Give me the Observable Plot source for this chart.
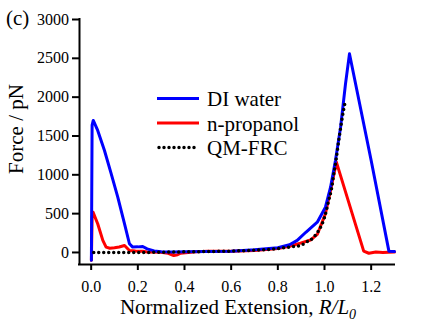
<!DOCTYPE html>
<html>
<head>
<meta charset="utf-8">
<script src="https://cdn.jsdelivr.net/npm/d3@7"></script>
<script src="https://cdn.jsdelivr.net/npm/@observablehq/plot@0.6"></script>
<style>
  html, body { margin: 0; padding: 0; background: #fff; }
  #chart { width: 432px; height: 324px; }
  #chart svg, #chart svg text { font-family: "Liberation Serif", "Times New Roman", serif !important; }
</style>
</head>
<body>
<div id="chart"></div>
<script>
// ---- data ----
const seriesNames = ["DI water", "n-propanol", "QM-FRC"];
const xTicks = [0.0, 0.2, 0.4, 0.6, 0.8, 1.0, 1.2];
const yTicks = [0, 500, 1000, 1500, 2000, 2500, 3000];

const waterX = [0.001, 0.004, 0.009, 0.028, 0.057, 0.086, 0.114, 0.143, 0.164, 0.178, 0.2, 0.221, 0.24, 0.27, 0.3, 0.35, 0.4, 0.5, 0.6, 0.7, 0.8, 0.85, 0.883, 0.92, 0.969, 1.004, 1.026, 1.047, 1.069, 1.09, 1.107, 1.2, 1.276, 1.3];
const waterY = [-100, 1640, 1700, 1571, 1313, 1013, 712, 369, 112, 69, 72, 77, 47, 20, 10, 5, 8, 12, 17, 35, 60, 100, 155, 260, 390, 583, 841, 1185, 1614, 2172, 2558, 1185, 17, 12];

const propX = [0.001, 0.004, 0.008, 0.028, 0.05, 0.064, 0.08, 0.1, 0.12, 0.143, 0.164, 0.19, 0.221, 0.24, 0.297, 0.33, 0.354, 0.37, 0.383, 0.45, 0.5, 0.6, 0.7, 0.8, 0.85, 0.897, 0.94, 0.969, 1.004, 1.026, 1.051, 1.168, 1.19, 1.22, 1.25, 1.3];
const propY = [-100, 460, 519, 369, 155, 69, 55, 60, 70, 90, 26, 20, 17, 5, 4, -10, -39, -30, -9, 10, 15, 15, 25, 50, 80, 120, 160, 232, 498, 798, 1163, 17, -10, 5, 0, 5];

const qmX = [0.011, 0.1, 0.2, 0.3, 0.4, 0.5, 0.6, 0.7, 0.8, 0.85, 0.897, 0.92, 0.954, 0.97, 0.99, 1.0, 1.018, 1.03, 1.04, 1.05, 1.061, 1.07, 1.08, 1.09];
const qmY = [0, 0, 0, 3, 8, 12, 18, 28, 50, 70, 90, 130, 197, 260, 369, 450, 670, 820, 1013, 1200, 1442, 1620, 1806, 1957];

const water = waterX.map((x, i) => ({x, y: waterY[i]}));
const prop = propX.map((x, i) => ({x, y: propY[i]}));
const qm = qmX.map((x, i) => ({x, y: qmY[i]}));

const xDomain = [-0.05, 1.3];
const yDomain = [-155, 3000];
const FONT = "Liberation Serif, Times New Roman, serif";

const chart = Plot.plot({
  width: 432,
  height: 324,
  marginLeft: 79,
  marginRight: 38,
  marginTop: 19,
  marginBottom: 60,
  style: {fontFamily: FONT, fontSize: "16px", color: "#000", background: "#fff"},
  x: {domain: xDomain},
  y: {domain: yDomain},
  marks: [
    Plot.axisX({ticks: xTicks, tickFormat: d => d.toFixed(1), tickSize: 6, tickPadding: 10, strokeWidth: 2, label: null, fontSize: 16}),
    Plot.axisY({ticks: yTicks, tickFormat: d => String(d), tickSize: 7, tickPadding: 3.5, strokeWidth: 2, label: null, fontSize: 16}),
    Plot.ruleX([xDomain[0]], {y1: yDomain[0], y2: yDomain[1], strokeWidth: 2, stroke: "#000", strokeLinecap: "square"}),
    Plot.ruleY([yDomain[0]], {x1: xDomain[0], x2: xDomain[1], strokeWidth: 2, stroke: "#000", strokeLinecap: "square"}),
    Plot.line(prop, {x: "x", y: "y", stroke: "#ff0000", strokeWidth: 3, strokeLinejoin: "round"}),
    Plot.line(water, {x: "x", y: "y", stroke: "#0000ff", strokeWidth: 3, strokeLinejoin: "round"}),
    Plot.line(qm, {x: "x", y: "y", stroke: "#000", strokeWidth: 3.5, strokeDasharray: "0 5", strokeLinecap: "round", curve: "monotone-x"})
  ]
});

document.getElementById("chart").appendChild(chart);

// ---- annotations: panel label, axis titles, legend ----
const svg = d3.select(chart);
svg.append("text").attr("x", 6).attr("y", 25).attr("text-anchor", "start")
  .attr("font-size", 21).attr("fill", "#000").text("(c)");

svg.append("text")
  .attr("transform", "translate(23,129) rotate(-90)")
  .attr("text-anchor", "middle")
  .attr("font-size", 21).attr("fill", "#000")
  .text("Force / pN");

const xl = svg.append("text").attr("x", 238).attr("y", 314)
  .attr("text-anchor", "middle")
  .attr("font-size", 21).attr("fill", "#000");
xl.append("tspan").text("Normalized Extension, ");
xl.append("tspan").attr("font-style", "italic").text("R/L");
xl.append("tspan").attr("font-style", "italic").attr("font-size", 14).attr("dy", 5).text("0");

const legendStyles = [
  {stroke: "#0000ff", width: 3, dash: null, cap: "butt"},
  {stroke: "#ff0000", width: 3, dash: null, cap: "butt"},
  {stroke: "#000", width: 3.5, dash: "0 5", cap: "round"}
];
seriesNames.forEach((name, i) => {
  const yb = 106 + i * 24.5;
  const s = legendStyles[i];
  const ln = svg.append("line")
    .attr("x1", s.dash ? 159 : 157).attr("x2", 199)
    .attr("y1", yb - 7.5).attr("y2", yb - 7.5)
    .attr("stroke", s.stroke).attr("stroke-width", s.width)
    .attr("stroke-linecap", s.cap);
  if (s.dash) ln.attr("stroke-dasharray", s.dash);
  svg.append("text").attr("x", 207).attr("y", yb).attr("text-anchor", "start")
    .attr("font-size", 21).attr("fill", "#000")
    .text(name);
});
</script>
</body>
</html>
